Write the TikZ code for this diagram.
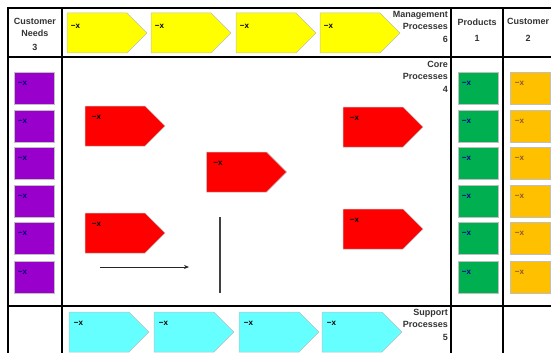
\documentclass[tikz,border=0pt]{standalone}
\usepackage{fontspec}
\setmainfont{Liberation Sans}
\usetikzlibrary{shapes.symbols,arrows.meta}

\definecolor{mgmt}{HTML}{FFFF00}
\definecolor{core}{HTML}{FF0000}
\definecolor{supp}{HTML}{66FFFF}
\definecolor{needs}{HTML}{9900CC}
\definecolor{prod}{HTML}{00B050}
\definecolor{cust}{HTML}{FFC000}
\definecolor{hdtext}{HTML}{333333}

\begin{document}
\begin{tikzpicture}[x=1pt,y=-1pt,
  gridline/.style={line width=2pt, black},
  proc/.style={signal, signal to=east, signal pointer angle=90,
    minimum width=80pt, minimum height=40pt, inner sep=0pt,
    draw=black!25, line width=0.5pt},
  sq/.style={rectangle, minimum width=40pt, minimum height=32pt,
    inner sep=0pt, draw=black!25, line width=0.5pt},
  tag/.style={font=\fontsize{8}{8}\selectfont\bfseries, inner sep=0pt, anchor=west},
  head/.style={font=\fontsize{9}{12.5}\selectfont\bfseries, text=hdtext,
    inner sep=0pt, align=center},
  sect/.style={font=\fontsize{9}{12.5}\selectfont\bfseries, text=hdtext,
    inner sep=0pt, align=right, anchor=north east},
]
\useasboundingbox (0,0) rectangle (551,353);

% table grid
\draw[gridline] (8,353) -- (8,8) -- (551,8);
\draw[gridline] (62,8) -- (62,353);
\draw[gridline] (451,8) -- (451,353);
\draw[gridline] (503,8) -- (503,353);
\draw[gridline] (8,57) -- (551,57);
\draw[gridline] (8,306) -- (551,306);

% column and row headings
\node[head] (hneeds) at (35,34) {Customer\\Needs\\[1pt]3};
\node[head] (hprod) at (477,30) {Products\\[4pt]1};
\node[head] (hcust) at (528,30) {Customer\\[4pt]2};
\node[sect] (hmgmt) at (448,11) {Management\\Processes\\6};
\node[sect] (hcore) at (448,61) {Core\\Processes\\4};
\node[sect] (hsupp) at (448,309) {Support\\Processes\\5};

% management processes
\foreach \x [count=\i] in {97,181,266,350} {
  \node[proc, fill=mgmt] (m\i) at (\x,33) {};
  \node[tag] at ([shift={(4,-7)}]m\i.west) {−x};
}

% support processes
\foreach \x [count=\i] in {99,184,269,352} {
  \node[proc, fill=supp] (s\i) at (\x,332) {};
  \node[tag] at ([shift={(5,-9)}]s\i.west) {−x};
}

% core processes
\node[proc, fill=core] (c1) at (115,126) {};
\node[proc, fill=core] (c2) at (115,233) {};
\node[proc, fill=core] (c3) at (236.5,172) {};
\node[proc, fill=core] (c4) at (373,127) {};
\node[proc, fill=core] (c5) at (373,229) {};
\foreach \n in {c1,c2,c3,c4,c5}
  \node[tag] at ([shift={(7,-9)}]\n.west) {−x};

% customer needs, products, customers
\foreach \y [count=\i] in {88,126,163.5,201,238,277.5} {
  \node[sq, fill=needs] (n\i) at (34,\y) {};
  \node[tag, text=blue!45!black] at ([shift={(4,-5)}]n\i.west) {−x};
  \node[sq, fill=prod] (p\i) at (478,\y) {};
  \node[tag, text=blue!60!black] at ([shift={(4,-5)}]p\i.west) {−x};
  \node[sq, fill=cust] (k\i) at (530,\y) {};
  \node[tag, text=brown!70!black] at ([shift={(5,-5)}]k\i.west) {−x};
}

% flow arrow and separator bar
\coordinate (fa) at (100,267);
\coordinate (fb) at (189,267);
\draw[-{Stealth[length=5pt,width=4pt]}, line width=0.9pt, black!85] (fa) -- (fb);
\coordinate (ba) at (220,217);
\coordinate (bb) at (220,293);
\draw[line width=2pt, black!75] (ba) -- (bb);
\end{tikzpicture}
\end{document}
